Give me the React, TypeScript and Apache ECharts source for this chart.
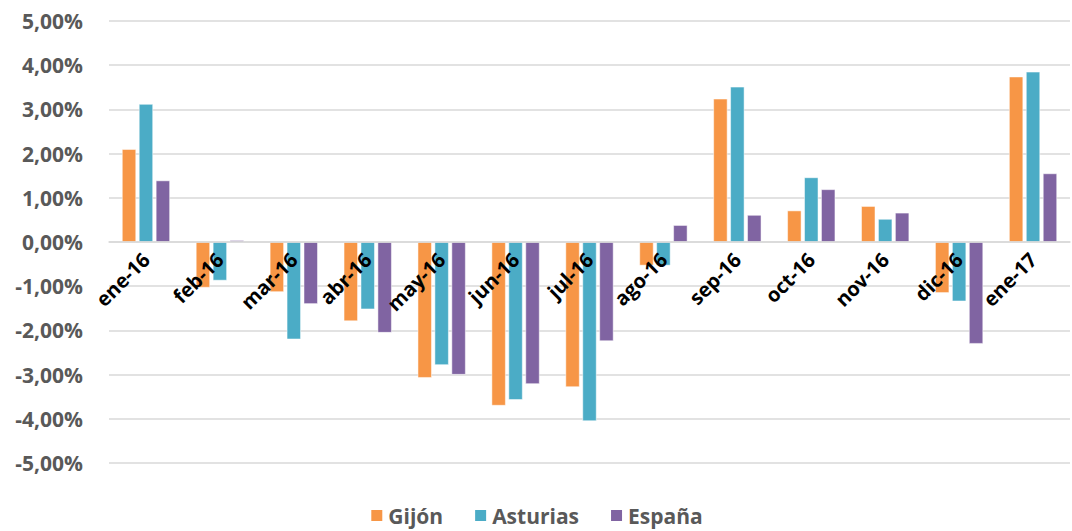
import React, { useEffect, useRef } from "react";
import * as echarts from "echarts";

const categories = ["ene-16", "feb-16", "mar-16", "abr-16", "may-16", "jun-16", "jul-16", "ago-16", "sep-16", "oct-16", "nov-16", "dic-16", "ene-17"];
const gijon = [2.10, -1.03, -1.13, -1.79, -3.07, -3.70, -3.28, -0.53, 3.24, 0.71, 0.81, -1.15, 3.74];
const asturias = [3.12, -0.87, -2.20, -1.52, -2.78, -3.57, -4.05, -0.53, 3.51, 1.46, 0.52, -1.34, 3.85];
const espana = [1.39, 0.04, -1.40, -2.05, -3.00, -3.21, -2.24, 0.38, 0.61, 1.19, 0.66, -2.30, 1.55];
const seriesNames = ["Gijón", "Asturias", "España"];
const colors = ["#F79646", "#4BACC6", "#8064A2"];

const FONT = "'Open Sans', 'Noto Sans', sans-serif";

export default function App() {
  const ref = useRef<HTMLDivElement>(null);
  useEffect(() => {
    if (!ref.current) return;
    const chart = echarts.init(ref.current, null, { renderer: "svg" });
    const datasets = [gijon, asturias, espana];
    chart.setOption({
      animation: false,
      backgroundColor: "#ffffff",
      grid: { left: 109, right: 2, top: 21, bottom: 68 },
      legend: {
        top: 505,
        left: "center",
        padding: 0,
        itemWidth: 13,
        itemHeight: 13,
        itemGap: 30,
        icon: "rect",
        data: seriesNames,
        textStyle: { fontFamily: FONT, fontSize: 21, fontWeight: "bold", color: "#595959" },
      },
      xAxis: {
        type: "category",
        data: categories,
        offset: -221,
        z: 10,
        axisLine: { show: true, onZero: false, lineStyle: { color: "#d9d9d9", width: 1.5 } },
        axisTick: { show: false },
        axisLabel: {
          rotate: 45,
          interval: 0,
          margin: 14,
          fontFamily: FONT,
          fontSize: 20,
          fontWeight: "bold",
          color: "#000000",
        },
      },
      yAxis: {
        type: "value",
        min: -5,
        max: 5,
        interval: 1,
        axisLine: { show: false },
        axisTick: { show: false },
        splitLine: { lineStyle: { color: "#d9d9d9", width: 1.5 } },
        axisLabel: {
          margin: 26,
          fontFamily: FONT,
          fontSize: 21,
          fontWeight: "bold",
          color: "#595959",
          formatter: (v: number) => v.toFixed(2).replace(".", ",") + "%",
        },
      },
      series: seriesNames.map((name, i) => ({
        name,
        type: "bar",
        data: datasets[i],
        barWidth: 14,
        barGap: "21%",
        z: 2,
        itemStyle: { color: colors[i], borderColor: "#ffffff", borderWidth: 0.5 },
      })),
    });
    return () => chart.dispose();
  }, []);
  return <div ref={ref} style={{ position: "fixed", left: 0, top: 0, width: 1072, height: 531 }} />;
}
